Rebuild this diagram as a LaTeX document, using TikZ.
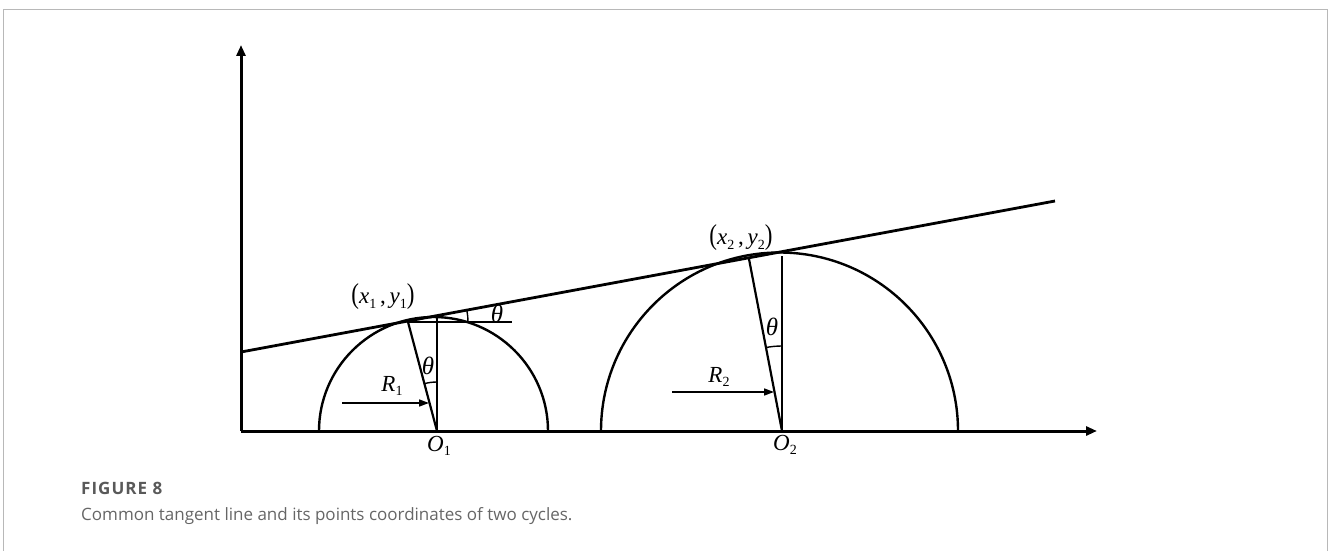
\documentclass[tikz,border=0pt]{standalone}
\usepackage{fontspec}
\setmainfont{Liberation Serif}
\newfontfamily\capfont{Open Sans}
\usetikzlibrary{arrows.meta}
\newcommand{\lbl}[2]{\textit{#1}\raisebox{-4.5pt}{\fontsize{14}{14}\selectfont #2}}
\newcommand{\bigpar}[1]{\scalebox{1}[1.25]{#1}}
\tikzset{
  axis/.style={line width=3pt, -{Triangle[length=11pt,width=9pt]}},
  curve/.style={line width=2.4pt},
  thin/.style={line width=2.2pt},
  radarrow/.style={line width=1.6pt, -{Triangle[length=10pt,width=7pt]}},
  lab/.style={font=\fontsize{23}{23}\selectfont, inner sep=0pt},
  thlab/.style={font=\fontsize{25}{25}\selectfont, inner sep=0pt},
  frame/.style={draw=black!28, line width=1.2pt},
}
\begin{document}
\begin{tikzpicture}[x=1pt,y=-1pt]
\useasboundingbox (0,0) rectangle (1331,551);
\draw[frame] (3.5,551) -- (3.5,9.5) -- (1327.5,9.5) -- (1327.5,551);
% points
\coordinate (orig) at (241,431);
\coordinate (ytop) at (241,45);
\coordinate (xend) at (1097,431);
\coordinate (O1) at (437,431);
\coordinate (O2) at (782,431);
\coordinate (T1) at (408,322);
\coordinate (T2) at (749,259);
\coordinate (V1) at (437,317);
\coordinate (V2) at (782,256);
\coordinate (L0) at (241,352);
\coordinate (L1) at (1055,201);
\coordinate (H1) at (512,322);
% axes
\draw[axis] (orig) -- (ytop);
\draw[axis] (orig) -- (xend);
% circles
\draw[curve] (319,431) arc[start angle=180, end angle=360, x radius=114.5, y radius=114];
\draw[curve] (601,431) arc[start angle=180, end angle=360, radius=178.5];
% tangent line
\draw[line width=2.8pt] (L0) -- (L1);
% radii and verticals
\draw[thin] (O1) -- (T1);
\draw[thin] (O1) -- (V1);
\draw[thin] (O2) -- (T2);
\draw[thin] (O2) -- (V2);
\draw[thin] (T1) -- (H1);
% angle arcs
\draw[line width=1.4pt] (468,322) arc[start angle=0, end angle=-10.5, radius=60];
\draw[line width=1.4pt] (437,382) arc[start angle=-90, end angle=-104.9, radius=49];
\draw[line width=1.4pt] (782,346) arc[start angle=-90, end angle=-100.9, radius=85];
% radius arrows
\coordinate (A1s) at (342,403);
\coordinate (A1e) at (429,403);
\coordinate (A2s) at (672,392);
\coordinate (A2e) at (774,392);
\draw[radarrow] (A1s) -- (A1e);
\draw[radarrow] (A2s) -- (A2e);
% labels
\node[thlab] (th1) at (497,314) {\textit{θ}};
\node[thlab] (th1b) at (428,366) {\textit{θ}};
\node[thlab] (th2) at (772,327) {\textit{θ}};
\node[lab] (r1) at (392,386) {\lbl{R}{1}};
\node[lab] (r2) at (719,377) {\lbl{R}{2}};
\node[lab] (o1) at (439,446) {\lbl{O}{1}};
\node[lab] (o2) at (785,445) {\lbl{O}{2}};
\node[lab] (p1) at (383,297) {\bigpar{(}\lbl{x}{1}\,,\,\lbl{y}{1}\bigpar{)}};
\node[lab] (p2) at (741,238) {\bigpar{(}\lbl{x}{2}\,,\,\lbl{y}{2}\bigpar{)}};
% caption
\node[anchor=base west, inner sep=0pt, font=\capfont\fontsize{17}{17}\selectfont\bfseries\addfontfeature{LetterSpace=6}, text=black!65] (fig) at (81,494) {FIGURE 8};
\node[anchor=base west, inner sep=0pt, font=\capfont\fontsize{17}{17}\selectfont, text=black!60] (cap) at (81,520) {Common tangent line and its points coordinates of two cycles.};
\end{tikzpicture}
\end{document}
